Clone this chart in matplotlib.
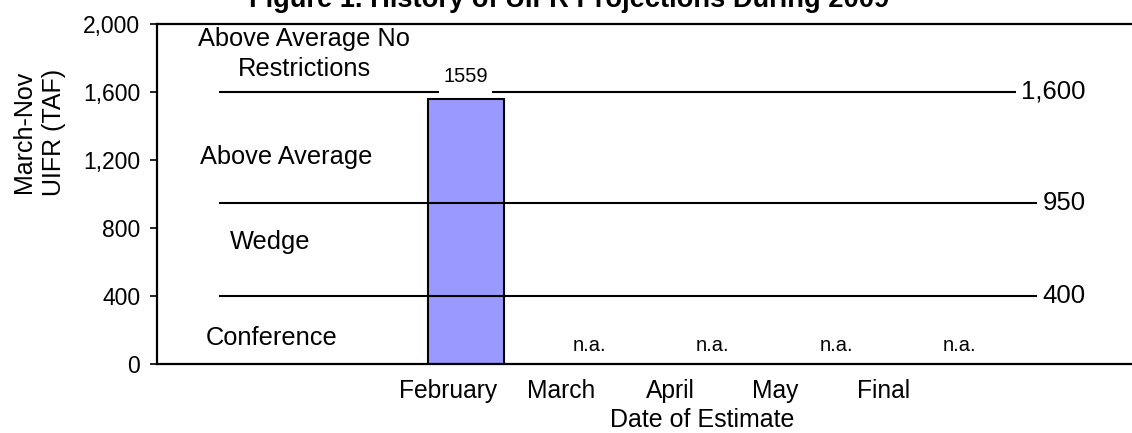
import numpy as np
import matplotlib
matplotlib.use("Agg")
import matplotlib.pyplot as plt
from matplotlib.ticker import FuncFormatter
from matplotlib.patches import Rectangle

plt.rcParams['font.family'] = ['Liberation Sans', 'DejaVu Sans']

# ---- data ----
title = "Figure 1. History of UIFR Projections During 2009"
categories = ["February", "March", "April", "May", "Final"]
values = [1559, None, None, None, None]
thresholds = [1600, 950, 400]
threshold_labels = ["1,600", "950", "400"]
zone_names = ["Above Average No\nRestrictions", "Above Average", "Wedge", "Conference"]
y_ticks = [0, 400, 800, 1200, 1600, 2000]
xlabel = "Date of Estimate"
ylabel = "March-Nov\nUIFR (TAF)"

# ---- layout (positions only) ----
W, H = 1132, 433
zone_pos = [(-1.31, 1824), (-1.45, 1218), (-1.58, 718), (-1.57, 153)]
tick_label_pos = [-0.146, 0.770, 1.660, 2.510, 3.385]

fig = plt.figure(figsize=(W / 100, H / 100), dpi=100)
ax = fig.add_axes([157 / W, 1 - 364 / H, 988 / W, 340 / H])

x = np.arange(len(categories))
bar_color = '#9999FF'

ax.set_xlim(-2.5, 5.5)
ax.set_ylim(0, 2000)

bar_labels = []
for xi, v in zip(x, values):
    if v is not None:
        ax.bar(xi, v, width=0.615, color=bar_color, edgecolor='black',
               linewidth=1.5, zorder=2)
        t = ax.annotate(f"{v}", (xi, v), xytext=(0, 16), textcoords='offset points',
                        ha='center', va='center', fontsize=14.5, zorder=6)
        bar_labels.append(t)
    else:
        ax.text(xi, 106, "n.a.", ha='center', va='center', fontsize=14.5, zorder=6)

ax.hlines(thresholds, -2.0, 5.0, color='black', linewidth=1.5, zorder=3)
for t, lab in zip(thresholds, threshold_labels):
    ax.text(5.02, t, lab, ha='right', va='center', fontsize=18.5, zorder=6,
            bbox=dict(boxstyle='square,pad=0.2', fc='white', ec='none'))

for name, (zx, zy) in zip(zone_names, zone_pos):
    ax.text(zx, zy, name, ha='center', va='center', fontsize=18.3,
            linespacing=1.3, multialignment='center', zorder=6)

# white knock-out behind bar value labels so the threshold line breaks around them
fig.canvas.draw()
inv = ax.transData.inverted()
for t in bar_labels:
    bb = t.get_window_extent()
    (x0, y0), (x1, y1) = inv.transform([(bb.x0 - 4, bb.y0 - 8), (bb.x1 + 4, bb.y1)])
    ax.add_patch(Rectangle((x0, y0), x1 - x0, y1 - y0, facecolor='white',
                           edgecolor='none', zorder=4))

ax.set_yticks(y_ticks)
ax.yaxis.set_major_formatter(FuncFormatter(lambda v, p: f"{int(v):,}"))
ax.tick_params(axis='y', length=5, width=1.2, pad=7, labelsize=16.5, direction='out')
ax.set_xticks(tick_label_pos)
ax.set_xticklabels(categories)
ax.tick_params(axis='x', length=0, pad=11, labelsize=17.7)

for s in ['left', 'top', 'bottom']:
    ax.spines[s].set_linewidth(1.6)
ax.spines['right'].set_visible(False)

fig.text(569 / W, 1 - 7 / H, title, ha='center', va='baseline',
         fontsize=19.6, fontweight='bold')
fig.text(702 / W, 1 - 420 / H, xlabel, ha='center', va='center', fontsize=18)
fig.text(39 / W, 1 - 132 / H, ylabel, ha='center', va='center', fontsize=18,
         rotation=90, linespacing=1.3, multialignment='center')

fig.savefig("out.png", dpi=100)
